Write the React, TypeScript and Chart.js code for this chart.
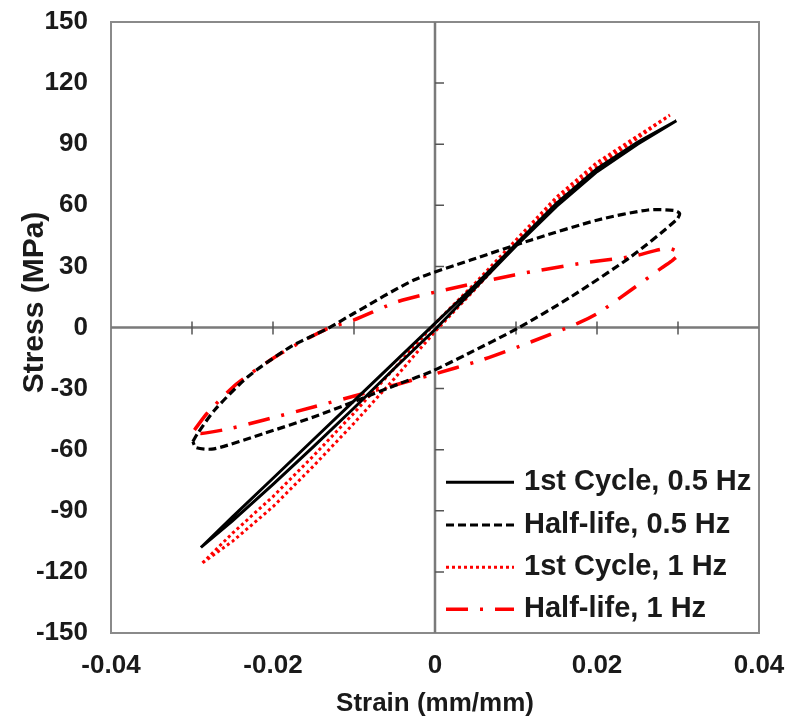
import React, { useEffect, useRef } from 'react';
import { Chart, registerables } from 'chart.js';

Chart.register(...registerables);

const FONT = '"Liberation Sans", Arial, Helvetica, sans-serif';
const TEXT = '#1a1a1a';

const seriesNames = ['1st Cycle, 0.5 Hz', 'Half-life, 0.5 Hz', '1st Cycle, 1 Hz', 'Half-life, 1 Hz'];

const xTitle = 'Strain (mm/mm)';
const yTitle = 'Stress (MPa)';

const xMin = -0.04;
const xMax = 0.04;
const xStep = 0.02;
const yMin = -150;
const yMax = 150;
const yStep = 30;
const xAxisMarks = [-0.03, -0.02, -0.01, 0.01, 0.02, 0.03];
const yAxisMarks = [-120, -90, -60, -30, 30, 60, 90, 120];

// 1st Cycle, 0.5 Hz (solid black)
const c1Hz05Strain = [-0.0289, -0.025, -0.02, -0.015, -0.01, -0.005, 0, 0.005, 0.01, 0.015, 0.02, 0.025, 0.0298,
  0.025, 0.02, 0.015, 0.01, 0.005, 0, -0.005, -0.01, -0.015, -0.02, -0.025, -0.0289];
const c1Hz05Stress = [-108, -93, -74, -55, -36, -17, 2, 21, 41, 61, 78, 91, 101.5,
  90, 76.5, 59.5, 40, 19.5, -1, -20, -39.5, -58.5, -77, -95, -108];

// Half-life, 0.5 Hz (dashed black)
const hl05Strain = [-0.0299, -0.0293, -0.0272, -0.0231, -0.0178, -0.0132, -0.01, -0.0026, 0.0044, 0.0119, 0.0201, 0.0263, 0.0295, 0.0302,
  0.0298, 0.0242, 0.0168, 0.0102, 0.004, -0.0005, -0.0042, -0.01, -0.0149, -0.0211, -0.0273, -0.0295, -0.0299];
const hl05Stress = [-56, -52, -40.5, -24.2, -9.4, -0.4, 7, 23.3, 33.1, 43, 52.8, 57.7, 57.5, 56,
  52.8, 34.8, 15.1, -0.4, -13, -21.7, -27.3, -36.4, -43.8, -52, -59.6, -59, -56];

// 1st Cycle, 1 Hz (dotted red)
const c1Hz1Strain = [-0.0287, -0.025, -0.02, -0.015, -0.01, -0.005, 0, 0.005, 0.01, 0.015, 0.02, 0.025, 0.029,
  0.025, 0.02, 0.015, 0.01, 0.005, 0, -0.005, -0.01, -0.015, -0.02, -0.025, -0.0287];
const c1Hz1Stress = [-115.6, -101, -83, -63, -42, -20, 2, 22, 43, 64, 81, 94, 104.3,
  93, 79, 62, 41, 19, -2, -25, -47, -68, -88, -105, -115.6];

// Half-life, 1 Hz (dash-dot red)
const hl1Strain = [-0.0297, -0.0281, -0.0244, -0.019, -0.0132, -0.01, -0.0046, 0.0003, 0.0098, 0.018, 0.0242, 0.0287, 0.0302,
  0.0291, 0.0279, 0.0242, 0.0201, 0.0176, 0.0119, 0.0057, -0.0005, -0.0087, -0.0149, -0.0211, -0.0252, -0.0289, -0.0297];
const hl1Stress = [-50.3, -42, -27.4, -12.7, -0.4, 3.7, 12.7, 17.6, 25.8, 31.5, 34.8, 38.9, 36.4,
  32.3, 29, 18.4, 7, 2, -7, -16, -23.3, -32.3, -38.9, -45.4, -49.5, -52, -50.3];

const pts = (xs: number[], ys: number[]) => xs.map((x, i) => ({ x, y: ys[i] }));

const framePlugin = {
  id: 'frame',
  beforeDatasetsDraw(chart: any) {
    const { ctx, chartArea: a, scales } = chart;
    const x = scales.x;
    const y = scales.y;
    const x0 = x.getPixelForValue(0);
    const y0 = y.getPixelForValue(0);
    ctx.save();
    ctx.setLineDash([]);
    ctx.strokeStyle = '#8a8a8a';
    ctx.lineWidth = 2;
    ctx.strokeRect(a.left, a.top, a.right - a.left, a.bottom - a.top);
    ctx.strokeStyle = '#7a7a7a';
    ctx.lineWidth = 2.5;
    ctx.beginPath();
    ctx.moveTo(a.left, y0);
    ctx.lineTo(a.right, y0);
    ctx.moveTo(x0, a.top);
    ctx.lineTo(x0, a.bottom);
    ctx.stroke();
    ctx.strokeStyle = '#555';
    ctx.lineWidth = 1.5;
    ctx.beginPath();
    xAxisMarks.forEach((v) => {
      const px = x.getPixelForValue(v);
      ctx.moveTo(px, y0 - 6);
      ctx.lineTo(px, y0 + 7);
    });
    yAxisMarks.forEach((v) => {
      const py = y.getPixelForValue(v);
      ctx.moveTo(x0, py);
      ctx.lineTo(x0 + 9, py);
    });
    ctx.stroke();
    ctx.restore();
  },
  afterDraw(chart: any) {
    const { ctx, chartArea: a, scales } = chart;
    const x0 = scales.x.getPixelForValue(0);
    ctx.save();
    // y axis title
    ctx.fillStyle = TEXT;
    ctx.font = `bold 30px ${FONT}`;
    ctx.textAlign = 'center';
    ctx.textBaseline = 'middle';
    ctx.translate(35, (a.top + a.bottom) / 2 - 25);
    ctx.rotate(-Math.PI / 2);
    ctx.fillText(yTitle, 0, 0);
    ctx.restore();

    // legend
    const rows = [150.7, 108, 65.7, 23.7];
    ctx.save();
    chart.data.datasets.forEach((ds: any, i: number) => {
      const ry = a.bottom - rows[i];
      ctx.setLineDash(ds.borderDash || []);
      ctx.strokeStyle = ds.borderColor;
      ctx.lineWidth = ds.borderWidth;
      ctx.beginPath();
      ctx.moveTo(x0 + 11, ry);
      ctx.lineTo(x0 + 79, ry);
      ctx.stroke();
      ctx.setLineDash([]);
      ctx.fillStyle = TEXT;
      ctx.font = `bold 29px ${FONT}`;
      ctx.textAlign = 'left';
      ctx.textBaseline = 'middle';
      ctx.fillText(ds.label, x0 + 89, ry);
    });
    ctx.restore();
  },
};

export default function App() {
  const ref = useRef<HTMLCanvasElement>(null);
  useEffect(() => {
    const chart = new Chart(ref.current as HTMLCanvasElement, {
      type: 'scatter',
      data: {
        datasets: [
          {
            label: seriesNames[0],
            data: pts(c1Hz05Strain, c1Hz05Stress),
            borderColor: '#000000',
            backgroundColor: '#000000',
            borderWidth: 3,
            borderDash: [],
            showLine: true,
            pointRadius: 0,
            tension: 0,
            fill: false,
          },
          {
            label: seriesNames[1],
            data: pts(hl05Strain, hl05Stress),
            borderColor: '#000000',
            backgroundColor: '#000000',
            borderWidth: 3.2,
            borderDash: [8, 4],
            showLine: true,
            pointRadius: 0,
            tension: 0.25,
            fill: false,
          },
          {
            label: seriesNames[2],
            data: pts(c1Hz1Strain, c1Hz1Stress),
            borderColor: '#ff0000',
            backgroundColor: '#ff0000',
            borderWidth: 3,
            borderDash: [3, 3],
            showLine: true,
            pointRadius: 0,
            tension: 0,
            fill: false,
          },
          {
            label: seriesNames[3],
            data: pts(hl1Strain, hl1Stress),
            borderColor: '#ff0000',
            backgroundColor: '#ff0000',
            borderWidth: 3.5,
            borderDash: [22, 12, 3, 12],
            showLine: true,
            pointRadius: 0,
            tension: 0.25,
            fill: false,
          },
        ],
      },
      options: {
        animation: false,
        responsive: true,
        maintainAspectRatio: false,
        layout: { padding: { left: 0, top: 22, right: 41, bottom: 0 } },
        plugins: { legend: { display: false }, tooltip: { enabled: false } },
        scales: {
          x: {
            type: 'linear',
            min: xMin,
            max: xMax,
            grid: { display: false, drawTicks: false },
            border: { display: false },
            ticks: {
              stepSize: xStep,
              padding: 17,
              color: TEXT,
              font: { family: FONT, size: 26, weight: 'bold' },
              callback: (v: any) => (Math.abs(Number(v)) < 1e-9 ? '0' : Number(v).toFixed(2)),
            },
            title: {
              display: true,
              text: xTitle,
              color: TEXT,
              padding: { top: 0, bottom: 0 },
              font: { family: FONT, size: 26, weight: 'bold' },
            },
            afterFit: (s: any) => {
              s.height = 86;
              s.paddingLeft = 0;
              s.paddingRight = 0;
            },
          },
          y: {
            type: 'linear',
            min: yMin,
            max: yMax,
            grid: { display: false, drawTicks: false },
            border: { display: false },
            ticks: {
              stepSize: yStep,
              padding: 23,
              color: TEXT,
              font: { family: FONT, size: 26, weight: 'bold' },
              callback: (v: any) => String(Math.round(Number(v))),
            },
            title: { display: false },
            afterFit: (s: any) => {
              s.width = 111;
              s.paddingTop = 0;
              s.paddingBottom = 0;
            },
          },
        },
      } as any,
      plugins: [framePlugin],
    });
    return () => chart.destroy();
  }, []);
  return (
    <div style={{ position: 'absolute', left: 0, top: 0, width: 800, height: 719, background: '#fff' }}>
      <canvas ref={ref} />
    </div>
  );
}
